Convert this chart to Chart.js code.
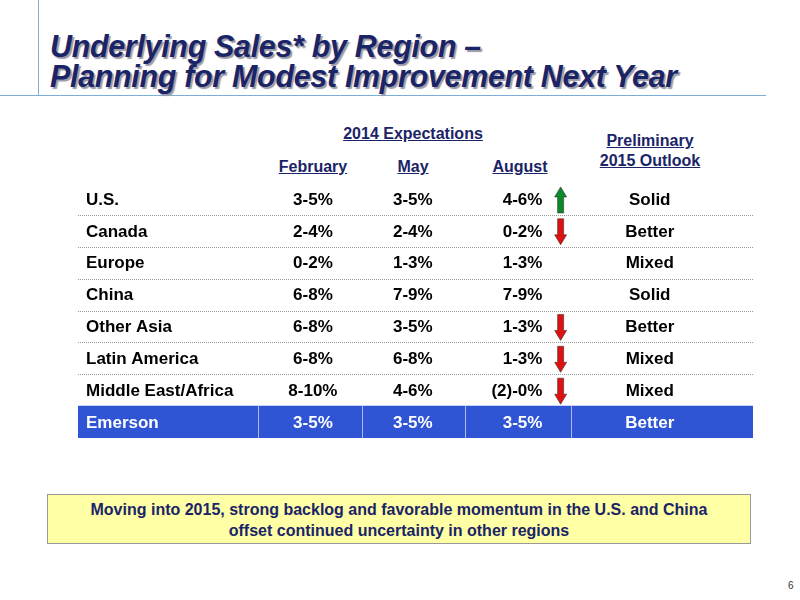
<!DOCTYPE html>
<html><head><meta charset="utf-8">
<script src="https://cdn.jsdelivr.net/npm/chart.js@4"></script>
<style>
body{margin:0;width:800px;height:600px;position:relative;background:#fff;font-family:"Liberation Sans",Arial,sans-serif;overflow:hidden}
.t{position:absolute;font-weight:bold;color:#1a2466}
#title{left:50px;top:31px;font-size:32px;font-style:italic;line-height:30px;text-shadow:2px 2px 1px #9a9aa8;letter-spacing:-0.3px;transform:scaleX(0.95);transform-origin:left top;white-space:nowrap}
.h{font-size:16px;text-decoration:underline;transform:translateX(-50%);text-align:center;line-height:20px}
#foot{position:absolute;left:47px;top:494px;width:704px;height:50px;background:#ffffa6;border:1px solid #9a9a9a;color:#1a2466;font-weight:bold;font-size:16px;text-align:center;line-height:21px;padding-top:4px;box-sizing:border-box}
#c{position:absolute;left:0;top:0}
</style></head><body>
<div style="position:absolute;left:38px;top:0;width:1px;height:96px;background:#7ab0d8"></div>
<div style="position:absolute;left:0;top:95px;width:766px;height:1px;background:#7ab0d8"></div>
<div id="title" class="t">Underlying Sales* by Region –<br>Planning for Modest Improvement Next Year</div>
<div class="t h" style="left:413px;top:124px">2014 Expectations</div>
<div class="t h" style="left:313px;top:157px">February</div>
<div class="t h" style="left:413px;top:157px">May</div>
<div class="t h" style="left:520px;top:157px">August</div>
<div class="t h" style="left:650px;top:131px">Preliminary<br>2015 Outlook</div>
<div id="foot">Moving into 2015, strong backlog and favorable momentum in the U.S. and China<br>offset continued uncertainty in other regions</div>
<div style="position:absolute;left:788px;top:580px;font-size:10px;color:#333">6</div>
<canvas id="c" width="800" height="600"></canvas>
<script>
const regions = ['U.S.', 'Canada', 'Europe', 'China', 'Other Asia', 'Latin America', 'Middle East/Africa', 'Emerson'];
const february = ['3-5%', '2-4%', '0-2%', '6-8%', '6-8%', '6-8%', '8-10%', '3-5%'];
const may = ['3-5%', '2-4%', '1-3%', '7-9%', '3-5%', '6-8%', '4-6%', '3-5%'];
const august = ['4-6%', '0-2%', '1-3%', '7-9%', '1-3%', '1-3%', '(2)-0%', '3-5%'];
const trend = ['up', 'down', null, null, 'down', 'down', 'down', null];
const outlook2015 = ['Solid', 'Better', 'Mixed', 'Solid', 'Better', 'Mixed', 'Mixed', 'Better'];
const highlight = [null, null, null, null, null, null, null, [0, 1]];

// column layout as fractions of the table width
const cols = [
  {data: february, x: 0.348}, {data: may, x: 0.496},
  {data: august, x: 0.655, align: 'right', rx: 0.688}, {data: outlook2015, x: 0.847}
];
const dividers = [0.267, 0.42, 0.574, 0.731];

const tablePlugin = {
  id: 'table',
  afterDatasetsDraw(chart) {
    const {ctx, chartArea: a, scales: {y}} = chart;
    const w = a.right - a.left;
    const rowH = (a.bottom - a.top) / regions.length;
    ctx.save();
    // dotted separators
    ctx.strokeStyle = '#999'; ctx.lineWidth = 1; ctx.setLineDash([1, 1]);
    for (let i = 1; i < regions.length - 1; i++) {
      const yy = Math.round(a.top + i * rowH) + 0.5;
      ctx.beginPath(); ctx.moveTo(a.left, yy); ctx.lineTo(a.right, yy); ctx.stroke();
    }
    ctx.setLineDash([]);
    // white dividers in highlight row
    const last = regions.length - 1;
    ctx.strokeStyle = 'rgba(255,255,255,0.6)';
    dividers.forEach(d => {
      const xx = Math.round(a.left + d * w) + 0.5;
      ctx.beginPath(); ctx.moveTo(xx, a.top + last * rowH); ctx.lineTo(xx, a.bottom); ctx.stroke();
    });
    ctx.font = 'bold 17px "Liberation Sans", Arial, sans-serif';
    ctx.textBaseline = 'middle';
    regions.forEach((r, i) => {
      const cy = y.getPixelForValue(i) + 1;
      const col = i === last ? '#fff' : '#000';
      ctx.fillStyle = col; ctx.textAlign = 'left';
      ctx.fillText(r, a.left + 8, cy);
      cols.forEach(c => {
        ctx.fillStyle = col;
        if (c.align === 'right') { ctx.textAlign = 'right'; ctx.fillText(c.data[i], a.left + c.rx * w, cy); }
        else { ctx.textAlign = 'center'; ctx.fillText(c.data[i], a.left + c.x * w, cy); }
      });
      if (trend[i]) {
        const ax = a.left + 0.715 * w, t = cy - 13, b = cy + 13;
        ctx.fillStyle = trend[i] === 'up' ? '#0a8a2a' : '#e01010';
        ctx.strokeStyle = '#333'; ctx.lineWidth = 0.6;
        ctx.beginPath();
        if (trend[i] === 'up') {
          ctx.moveTo(ax, t); ctx.lineTo(ax + 6, t + 10); ctx.lineTo(ax + 3, t + 10); ctx.lineTo(ax + 3, b);
          ctx.lineTo(ax - 3, b); ctx.lineTo(ax - 3, t + 10); ctx.lineTo(ax - 6, t + 10);
        } else {
          ctx.moveTo(ax, b); ctx.lineTo(ax + 6, b - 10); ctx.lineTo(ax + 3, b - 10); ctx.lineTo(ax + 3, t);
          ctx.lineTo(ax - 3, t); ctx.lineTo(ax - 3, b - 10); ctx.lineTo(ax - 6, b - 10);
        }
        ctx.closePath(); ctx.fill(); ctx.stroke();
      }
    });
    ctx.restore();
  }
};

new Chart(document.getElementById('c'), {
  type: 'bar',
  data: {
    labels: regions,
    datasets: [{
      data: highlight,
      backgroundColor: '#2f55d4',
      barPercentage: 1,
      categoryPercentage: 1
    }]
  },
  options: {
    indexAxis: 'y',
    responsive: false,
    animation: false,
    layout: {padding: {left: 78, right: 47, top: 183, bottom: 162}},
    scales: {
      x: {display: false, min: 0, max: 1},
      y: {display: false}
    },
    plugins: {legend: {display: false}, tooltip: {enabled: false}}
  },
  plugins: [tablePlugin]
});
</script>
</body></html>
